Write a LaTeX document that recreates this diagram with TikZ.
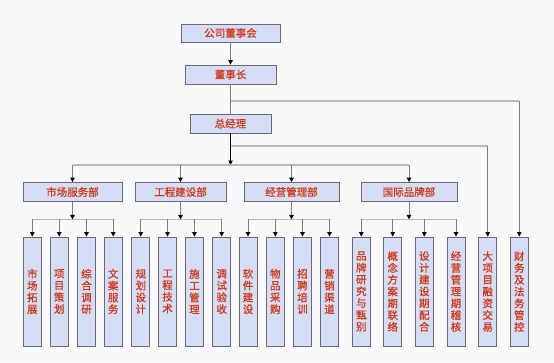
\documentclass[tikz,border=0pt]{standalone}
\usepackage{fontspec}
\usetikzlibrary{arrows.meta,calc}
\newfontfamily\cjk[FakeBold=0.8]{Noto Sans CJK SC}
\definecolor{bg}{RGB}{248,248,248}
\definecolor{boxfill}{RGB}{214,221,247}
\definecolor{boxline}{RGB}{105,105,120}
\definecolor{txt}{RGB}{205,55,20}
\definecolor{vline}{RGB}{125,125,125}
\definecolor{hline}{RGB}{185,185,185}
\tikzset{>={Triangle[width=4.5pt,length=4.5pt,color=black]},
  every node/.style={font=\cjk\fontsize{10.5}{11.8}\selectfont,text=txt},
  box/.style={draw=boxline,fill=boxfill,line width=.8pt,inner sep=0pt,minimum height=19pt},
  leaf/.style={box,minimum width=18pt,minimum height=109pt,align=center},
  link/.style={vline,line width=.9pt},bus/.style={hline,line width=1.3pt},main/.style={black,line width=1pt}}

\begin{document}
\begin{tikzpicture}[x=1pt,y=-1pt]
\fill[bg] (0,0) rectangle (554,362);
\node[box,minimum width=99pt,minimum height=18pt] (board) at (230.5,33) {公司董事会};
\node[box,minimum width=91pt] (chair) at (230.5,74.5) {董事长};
\node[box,minimum width=81pt] (gm) at (230.5,123.5) {总经理};
\foreach \n/\x/\w/\t in {d1/72.5/99/市场服务部,d2/180.5/91/工程建设部,d3/291.5/95/经营管理部,d4/409/96/国际品牌部}
  \node[box,minimum width=\w pt] (\n) at (\x,192) {\t};
\foreach \i/\x/\t in {1/32.3/{市\\场\\拓\\展},2/59.2/{项\\目\\策\\划},3/86.5/{综\\合\\调\\研},4/113.2/{文\\案\\服\\务},
  5/140.8/{规\\划\\设\\计},6/167.5/{工\\程\\技\\术},7/194.5/{施\\工\\管\\理},8/221.7/{调\\试\\验\\收},
  9/248/{软\\件\\建\\设},10/275.3/{物\\品\\采\\购},11/302.5/{招\\聘\\培\\训},12/329.5/{营\\销\\渠\\道},
  13/361.3/{品\\牌\\研\\究\\与\\甄\\别},14/392.7/{概\\念\\方\\案\\期\\联\\络},15/424.3/{设\\计\\建\\设\\期\\配\\合},
  16/456/{经\\营\\管\\理\\期\\稽\\核},17/487.7/{大\\项\\目\\融\\资\\交\\易},18/519.3/{财\\务\\及\\法\\务\\管\\控}}
  \node[leaf] (c\i) at (\x,291.5) {\t};
% top of the tree
\coordinate (j1) at (230.5,101);\coordinate (j2) at (230.5,146);\coordinate (j3) at (230.5,165);
\draw[link,->] (board) -- (chair);
\draw[link] (chair) -- (gm);
\draw[main,->] (gm) -- (j3);
\draw[bus] (j1) -- (j1 -| c18);\draw[link,->] (j1 -| c18) -- (c18);
\draw[bus] (j2) -- (j2 -| c17);\draw[link,->] (j2 -| c17) -- (c17);
\draw[bus] (j3 -| d1) -- (j3 -| d4);
\foreach \d in {d1,d2,d3,d4} \draw[link,->] (j3 -| \d) -- (\d);
% departments
\foreach \d/\a/\b in {d1/1/4,d2/5/8,d3/9/12,d4/13/16}{
  \coordinate (b\d) at ($(\d.south)+(0,17.5)$);
  \draw[bus] (b\d -| c\a) -- (b\d -| c\b);
  \draw[link,->] (\d) -- (b\d);
  \foreach \i in {\a,...,\b} \draw[link,->] (b\d -| c\i) -- (c\i);
}
\end{tikzpicture}
\end{document}
